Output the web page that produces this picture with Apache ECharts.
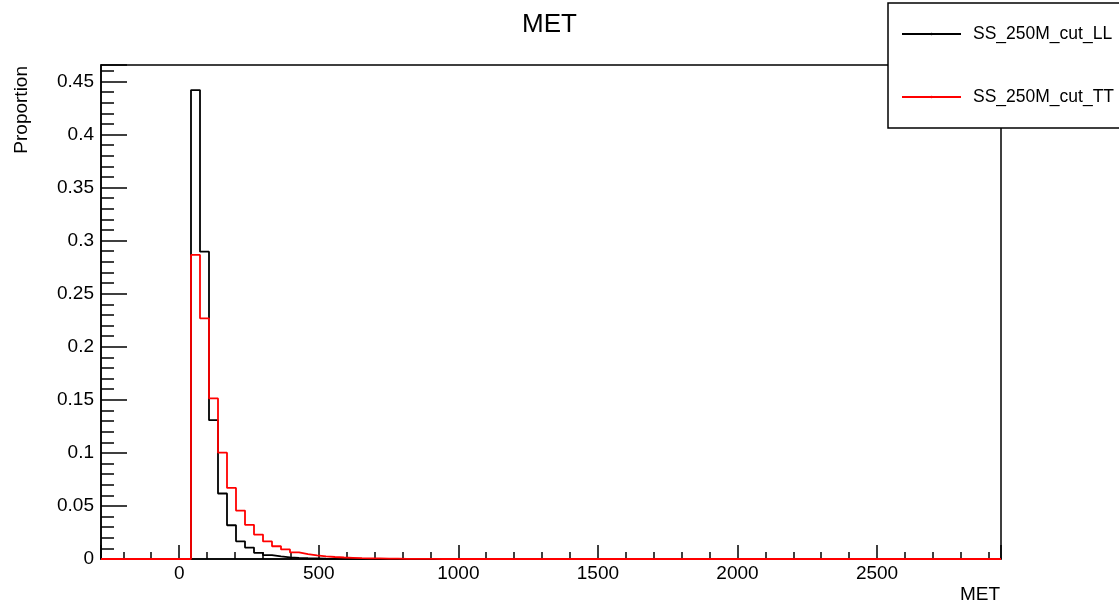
<!DOCTYPE html>
<html>
<head>
<meta charset="utf-8">
<script src="https://cdn.jsdelivr.net/npm/echarts@6/dist/echarts.min.js"></script>
<style>
  html, body { margin: 0; padding: 0; background: #ffffff; }
  #chart { width: 1119px; height: 610px; }
</style>
</head>
<body>
<div id="chart"></div>
<script>
// Histogram binning (ROOT style): 100 equal bins across the x range
const xMin = -280;
const xMax = 2944;
const nBins = 100;
const firstBin = 10; // index of first bin listed below; all other bins are 0

const seriesNames = ['SS_250M_cut_LL', 'SS_250M_cut_TT'];
const valuesLL = [0.4419, 0.2896, 0.1308, 0.0617, 0.0318, 0.0167, 0.0108, 0.0058, 0.0036, 0.0024,
                  0.0016, 0.0010, 0.0007, 0.0005, 0.0003, 0.0002, 0.0002, 0.0001, 0.0001];
const valuesTT = [0.2865, 0.2268, 0.1513, 0.1002, 0.0670, 0.0456, 0.0322, 0.0230, 0.0166, 0.0120,
                  0.0090, 0.0062, 0.0046, 0.0034, 0.0025, 0.0019, 0.0014, 0.0011, 0.0008, 0.0006,
                  0.0005, 0.0004, 0.0003, 0.0002, 0.0002, 0.0001, 0.0001];

const titleText = 'MET';
const xTitle = 'MET';
const yTitle = 'Proportion';
const FONT = "'Liberation Sans', Arial, Helvetica, sans-serif";

function histPoints(vals) {
  const w = (xMax - xMin) / nBins;
  const pts = [];
  for (let i = 0; i < nBins; i++) {
    const k = i - firstBin;
    const v = (k >= 0 && k < vals.length) ? vals[k] : 0;
    pts.push([xMin + i * w, v]);
  }
  pts.push([xMax, 0]);
  return pts;
}

const chart = echarts.init(document.getElementById('chart'), null, { renderer: 'canvas' });
const option = {
  animation: false,
  backgroundColor: '#ffffff',
  title: {
    text: titleText,
    left: 517, top: 7,
    textStyle: { fontFamily: FONT, fontSize: 26, fontWeight: 'normal', color: '#000' }
  },
  grid: {
    left: 101, top: 65, right: 118, bottom: 51,
    show: true, borderColor: '#000', borderWidth: 1.5, backgroundColor: 'transparent'
  },
  legend: {
    orient: 'vertical',
    left: 888, top: 3,
    padding: [22, 80, 22, 13],
    itemGap: 45,
    itemWidth: 59, itemHeight: 3,
    backgroundColor: '#fff',
    borderColor: '#000', borderWidth: 1.5,
    textStyle: { fontFamily: FONT, fontSize: 17.5, color: '#000', padding: [0, 0, 0, 7] },
    data: seriesNames
  },
  xAxis: {
    type: 'value',
    min: xMin, max: xMax,
    splitNumber: 6, minInterval: 500, maxInterval: 500,
    axisLine: { show: true, onZero: false, lineStyle: { color: '#000', width: 1.5 } },
    axisTick: { show: true, inside: true, length: 14, lineStyle: { color: '#000', width: 1.5 } },
    minorTick: { show: true, splitNumber: 5, length: 7, lineStyle: { color: '#000', width: 1.5 } },
    splitLine: { show: false },
    axisLabel: { showMinLabel: false, showMaxLabel: false, margin: 5, fontFamily: FONT, fontSize: 19, color: '#000',
                 formatter: function (v) { return String(v); } }
  },
  yAxis: {
    type: 'value',
    min: 0, max: 0.4655,
    splitNumber: 9, minInterval: 0.05, maxInterval: 0.05,
    axisLine: { show: true, onZero: false, lineStyle: { color: '#000', width: 1.5 } },
    axisTick: { show: true, inside: true, length: 26, lineStyle: { color: '#000', width: 1.5 } },
    minorTick: { show: true, splitNumber: 5, length: 13, lineStyle: { color: '#000', width: 1.5 } },
    splitLine: { show: false },
    axisLabel: { showMinLabel: true, showMaxLabel: false, margin: 7, fontFamily: FONT, fontSize: 19, color: '#000' }
  },
  graphic: [
    { type: 'text', x: 1000, y: 595, z: 10,
      style: { text: xTitle, font: "19px 'Liberation Sans', Arial, sans-serif", fill: '#000', textAlign: 'right', textVerticalAlign: 'middle' } },
    { type: 'text', x: 22, y: 66, rotation: Math.PI / 2, z: 10,
      style: { text: yTitle, font: "19px 'Liberation Sans', Arial, sans-serif", fill: '#000', textAlign: 'right', textVerticalAlign: 'middle' } }
  ],
  series: [
    { name: seriesNames[0], type: 'line', step: 'end', symbol: 'none', z: 3,
      lineStyle: { color: '#000', width: 1.8 }, itemStyle: { color: '#000' },
      data: histPoints(valuesLL) },
    { name: seriesNames[1], type: 'line', step: 'end', symbol: 'none', z: 4,
      lineStyle: { color: '#ff0000', width: 1.8 }, itemStyle: { color: '#ff0000' },
      data: histPoints(valuesTT) }
  ]
};
chart.setOption(option);
</script>
</body>
</html>
